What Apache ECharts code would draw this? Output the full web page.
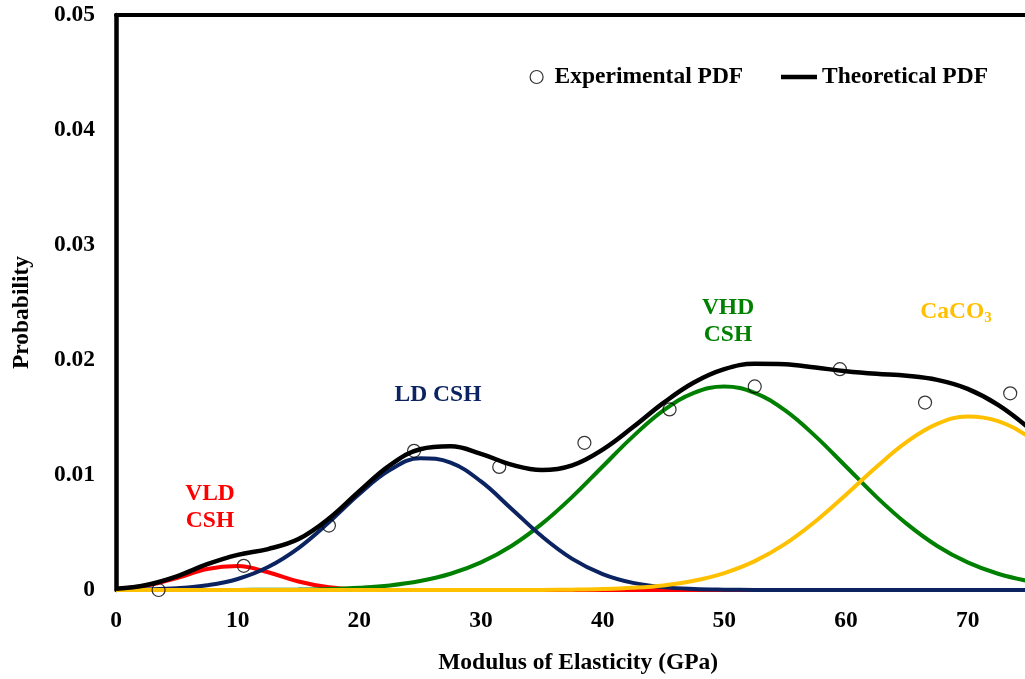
<!DOCTYPE html>
<html>
<head>
<meta charset="utf-8">
<script src="https://cdn.jsdelivr.net/npm/echarts@6/dist/echarts.min.js"></script>
<style>
html,body{margin:0;padding:0;background:#fff;}
#chart{width:1025px;height:679px;}
</style>
</head>
<body>
<div id="chart"></div>
<script>
// ---- data ----
const xTickLabels = [0, 10, 20, 30, 40, 50, 60, 70, 80];
const yTickLabels = ['0', '0.01', '0.02', '0.03', '0.04', '0.05'];

const expX = [3.5, 10.5, 17.5, 24.5, 31.5, 38.5, 45.5, 52.5, 59.5, 66.5, 73.5];
const expY = [0, 0.0021, 0.0056, 0.0121, 0.0107, 0.0128, 0.0157, 0.0177, 0.0192, 0.0163, 0.0171];

const curveX = [0, 2.5, 5, 7.5, 10, 12.5, 15, 17.5, 20, 22.5, 25, 27.5, 30, 32.5, 35, 37.5, 40,
  42.5, 45, 47.5, 50, 52.5, 55, 57.5, 60, 62.5, 65, 67.5, 70, 72.5, 75, 77.5, 80];

const vldY = [0.00009, 0.00039, 0.00104, 0.00183, 0.00208, 0.00154, 0.00074, 0.00023, 0.00005, 0.00001,
  0, 0, 0, 0, 0, 0, 0, 0, 0, 0, 0, 0, 0, 0, 0, 0, 0, 0, 0, 0, 0, 0, 0];
const ldY = [0.00001, 0.00005, 0.00015, 0.00041, 0.00096, 0.0020, 0.00365, 0.00589, 0.00835, 0.01043,
  0.01146, 0.01108, 0.00944, 0.00707, 0.00467, 0.00271, 0.00139, 0.00062, 0.00025, 0.00009, 0.00003,
  0.00001, 0, 0, 0, 0, 0, 0, 0, 0, 0, 0, 0];
const vhdY = [0, 0, 0, 0, 0.00001, 0.00002, 0.00004, 0.00009, 0.0002, 0.0004, 0.00078, 0.00141, 0.0024,
  0.00383, 0.00575, 0.0081, 0.01074, 0.01336, 0.01562, 0.01715, 0.0177, 0.01715, 0.01562, 0.01336,
  0.01074, 0.0081, 0.00575, 0.00383, 0.0024, 0.00141, 0.00078, 0.0004, 0.0002];
const caco3Y = [0, 0, 0, 0, 0, 0, 0, 0, 0, 0, 0, 0, 0, 0, 0.00001, 0.00003, 0.00008, 0.00019, 0.0004,
  0.0008, 0.00147, 0.00251, 0.00401, 0.00598, 0.00829, 0.0107, 0.01288, 0.01444, 0.01509, 0.01469,
  0.01333, 0.01126, 0.00887];
const theoY = [0.00011, 0.00044, 0.00119, 0.00224, 0.00305, 0.00356, 0.00443, 0.00621, 0.00859, 0.01084,
  0.01224, 0.01249, 0.01184, 0.0109, 0.01043, 0.01084, 0.01221, 0.01417, 0.01627, 0.01804, 0.0192,
  0.01967, 0.01963, 0.01934, 0.01903, 0.0188, 0.01863, 0.01827, 0.01749, 0.0161, 0.01411, 0.01166, 0.00907];

// ---- presentation ----
const FONT = "'Liberation Serif', 'Times New Roman', serif";
const FS = 23.5;
const pair = (xs, ys) => xs.map((x, i) => [x, ys[i]]);

const chart = echarts.init(document.getElementById('chart'), null, {renderer: 'canvas'});

function compLine(name, data, color, z) {
  return {
    name: name, type: 'line', data: pair(curveX, data), smooth: 0.4,
    symbol: 'none', z: z, clip: true,
    lineStyle: {color: color, width: 4},
    itemStyle: {color: color}
  };
}

const txt = {fontFamily: FONT, fontWeight: 'bold', fontSize: FS, color: '#000'};

const option = {
  animation: false,
  backgroundColor: '#fff',
  grid: {left: 116, top: 15, width: 973.3, height: 575, containLabel: false, outerBoundsMode: 'none'},
  xAxis: [{
    type: 'value', min: 0, max: 80, interval: 10,
    name: 'Modulus of Elasticity (GPa)', nameLocation: 'middle', nameGap: 61,
    nameTextStyle: Object.assign({}, txt, {lineHeight: 24, padding: [0, 49, 0, 0]}),
    axisLine: {show: true, onZero: false, lineStyle: {color: '#000', width: 2.5}},
    axisTick: {show: false},
    splitLine: {show: false},
    axisLabel: Object.assign({margin: 19, lineHeight: 24,
      formatter: v => xTickLabels.indexOf(v) >= 0 ? String(v) : ''}, txt)
  }, {
    type: 'value', min: 0, max: 80, position: 'top',
    axisLine: {show: true, onZero: false, lineStyle: {color: '#000', width: 4}},
    axisTick: {show: false}, axisLabel: {show: false}, splitLine: {show: false}
  }],
  yAxis: {
    type: 'value', min: 0, max: 0.05, interval: 0.01,
    name: 'Probability', nameLocation: 'middle', nameGap: 82, nameRotate: 90,
    nameTextStyle: Object.assign({}, txt, {lineHeight: 24, padding: [0, 20, 0, 0]}),
    axisLine: {show: true, onZero: false, lineStyle: {color: '#000', width: 4.5}},
    axisTick: {show: false},
    splitLine: {show: false},
    axisLabel: Object.assign({margin: 21, formatter: v => yTickLabels[Math.round(v * 100)]}, txt)
  },
  legend: [{
    data: [{name: 'Experimental PDF', icon: 'circle'}],
    left: 529.5, top: 65, padding: 0, itemWidth: 26, itemHeight: 13, itemGap: 0,
    selectedMode: false,
    itemStyle: {color: 'rgba(0,0,0,0)', borderColor: '#000', borderWidth: 1.2},
    textStyle: Object.assign({lineHeight: 24}, txt)
  }, {
    data: [{name: 'Theoretical PDF', icon: 'rect'}],
    left: 781, top: 65, padding: 0, itemWidth: 36, itemHeight: 4.5, itemGap: 0,
    selectedMode: false,
    itemStyle: {color: '#000', borderWidth: 0},
    textStyle: Object.assign({lineHeight: 24}, txt)
  }],
  series: [
    compLine('VLD CSH', vldY, '#FF0000', 2),
    compLine('VHD CSH', vhdY, '#008000', 3),
    compLine('LD CSH', ldY, '#0B2461', 4),
    compLine('CaCO3', caco3Y, '#FFC000', 5),
    {
      name: 'Theoretical PDF', type: 'line', data: pair(curveX, theoY), smooth: 0.4,
      symbol: 'none', z: 6,
      lineStyle: {color: '#000', width: 4.5}, itemStyle: {color: '#000'}
    },
    {
      name: 'Experimental PDF', type: 'scatter', data: pair(expX, expY),
      symbol: 'circle', symbolSize: 13, z: 7,
      itemStyle: {color: 'rgba(0,0,0,0)', borderColor: '#000', borderWidth: 1.2}
    }
  ],
  graphic: [
    {type: 'text', x: 210, y: 507, z: 10,
      style: {text: 'VLD\nCSH', fill: '#FF0000', font: 'bold 23.5px ' + FONT, align: 'center', verticalAlign: 'middle', lineHeight: 27}},
    {type: 'text', x: 438, y: 395, z: 10,
      style: {text: 'LD CSH', fill: '#0B2461', font: 'bold 23.5px ' + FONT, align: 'center', verticalAlign: 'middle'}},
    {type: 'text', x: 728, y: 321, z: 10,
      style: {text: 'VHD\nCSH', fill: '#008000', font: 'bold 23.5px ' + FONT, align: 'center', verticalAlign: 'middle', lineHeight: 27}},
    {type: 'text', x: 956, y: 312, z: 10,
      style: {text: '{m|CaCO}{s|3}', align: 'center', verticalAlign: 'middle',
        rich: {
          m: {fill: '#FFC000', color: '#FFC000', fontFamily: FONT, fontWeight: 'bold', fontSize: 23.5, lineHeight: 24},
          s: {fill: '#FFC000', color: '#FFC000', fontFamily: FONT, fontWeight: 'bold', fontSize: 15, lineHeight: 24, padding: [12, 0, 0, 0]}
        }}}
  ]
};
chart.setOption(option);
</script>
</body>
</html>
